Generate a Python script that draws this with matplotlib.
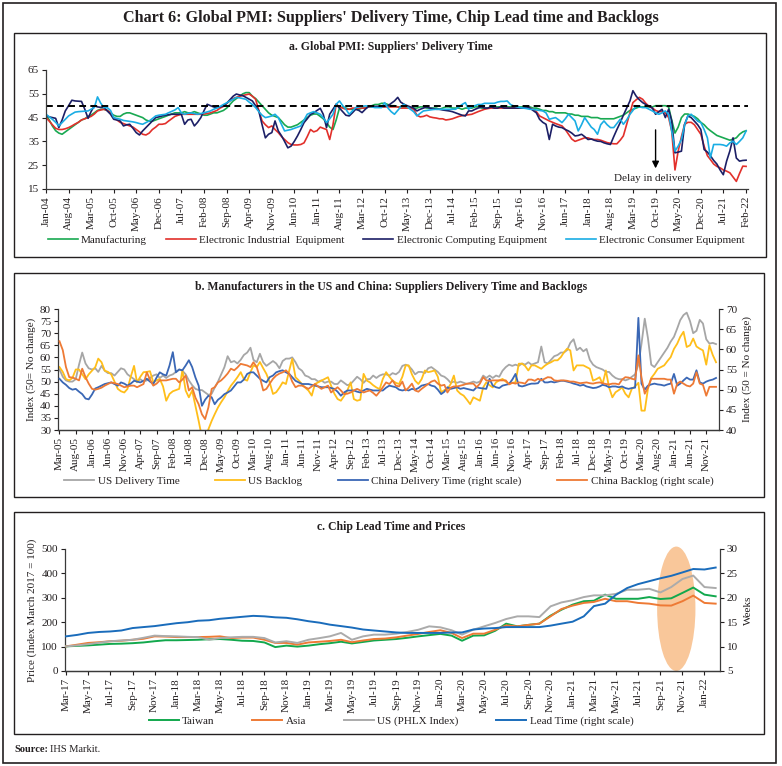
import pandas as pd
import matplotlib
matplotlib.use("Agg")
import matplotlib.pyplot as plt
import matplotlib.dates as mdates
from matplotlib.patches import Rectangle, Ellipse

plt.rcParams['font.family'] = ['Liberation Serif', 'DejaVu Serif']

W, H = 782, 766

# ---------------- a. Global PMI: suppliers' delivery time (Jan-04 .. Feb-22)
manufacturing = [
    46, 44, 41.5, 39.5, 38.5, 38, 39, 40, 41, 42, 43, 44,
    44.5, 45.5, 46, 47, 48, 48.5, 48.5, 48, 47, 46, 45.5, 45.5,
    46.5, 47, 47, 46.5, 46, 45.5, 45, 44, 43.5, 43.5, 44, 44.5,
    45, 45.5, 46, 46.5, 47, 47, 47, 47.5, 47, 47, 47.5, 47,
    46.5, 46, 46, 46.5, 47, 47, 47.5, 48, 49, 50.5, 52, 53,
    54, 55, 55.5, 55.5, 54, 53, 51.5, 50, 48.5, 47, 46, 45.5,
    45, 43.5, 42, 41, 41, 41.5, 42, 43, 44, 45, 46, 46.5,
    46.5, 45.5, 44.5, 43, 41, 40, 44, 49, 49.5, 49, 48.5, 48.5,
    48.5, 48.5, 49, 49, 49.5, 50, 50.5, 50.5, 51, 51, 50.5, 50,
    50, 49.5, 49.5, 49.5, 49.5, 49, 49, 49, 49.5, 49.5, 49, 49,
    49, 49, 48.5, 49, 49.5, 49.5, 49, 49, 49, 48.5, 49, 49,
    49, 49.5, 49.5, 49, 49, 49, 49.5, 49.5, 49.5, 49.5, 49.5, 49.5,
    49.5, 49.5, 49.5, 49.5, 49.5, 49.5, 49.5, 49, 49, 48.5, 48, 48,
    47.5, 47.5, 47, 47, 47, 47, 46.5, 46.5, 46, 46, 45.5, 45.5,
    45.5, 45, 45, 45, 44.5, 44.5, 44.5, 44.5, 44.5, 45, 45.5, 46,
    47, 48, 48.5, 49, 49.5, 49.5, 49.5, 49.5, 49.5, 50, 50, 50,
    50, 49.5, 44, 38.5, 41, 45, 46.5, 46.5, 46, 45.5, 44.5, 43,
    42, 40.5, 39.5, 38.5, 37.5, 37, 36.5, 36, 35.5, 36, 36.5, 38,
    39, 39.5,
]
industrial = [
    45, 43.5, 42, 40.5, 40, 40, 40.3, 40.8, 41.5, 42.3, 43, 44,
    44.5, 45, 45.5, 46.5, 47.8, 48.2, 48.5, 48, 47, 45, 44, 43,
    42.5, 42, 41.5, 41, 40, 39, 38, 37.7, 38.5, 40, 41, 42.2,
    42.2, 42.5, 43.5, 44.5, 45.5, 46, 46.4, 46.4, 46.4, 46.4, 46.4, 46.4,
    46.4, 46.5, 46.7, 47, 47.5, 48, 49, 49.7, 51, 52, 53, 53.5,
    54, 54.3, 54.6, 54.9, 54, 52.7, 48, 43.6, 42, 40.8, 41.5, 40,
    38.7, 37, 35.8, 34.5, 33.7, 33.5, 33.5, 33.7, 34.4, 37, 40, 39,
    39.5, 41, 40.5, 40, 35.8, 42, 50.6, 49.5, 49, 48.5, 48.5, 49,
    49, 49, 49, 49, 49.5, 49.5, 49.5, 49.5, 49.5, 49.5, 49.5, 49.5,
    49.5, 49.5, 49, 49, 49, 49, 48.5, 46, 45.3, 45.5, 46, 45.3,
    45, 44.8, 44.5, 44.5, 44, 44.2, 44.5, 45, 45.5, 45.8, 46, 46.2,
    46.4, 47, 47.5, 48, 48.5, 48.8, 49, 49, 49, 49, 49, 49,
    49, 49, 49, 49, 49, 49, 49, 48.5, 47.5, 45.7, 45, 44.3,
    43.6, 43, 42.5, 42, 41.5, 40, 38, 36, 35, 35.5, 36, 36.5,
    36.5, 36, 35.8, 35.8, 35.5, 35, 34.5, 34.2, 34, 34, 35.5, 37.3,
    42.2, 47, 51.3, 52.5, 53.5, 52.7, 51, 49.7, 49, 48, 47.5, 47.5,
    47, 45, 39.4, 23, 30.9, 37, 42.2, 43, 43, 42, 40, 38,
    33, 29, 27.4, 25.5, 24.5, 23.9, 23, 22.5, 21.8, 20, 18.2, 21.5,
    24.6, 24.5,
]
computing = [
    45.7, 45.3, 45, 44.7, 40.8, 44, 47.8, 50, 52.3, 52, 51.9, 51.8,
    48.5, 44.7, 47.5, 50, 49.5, 49.3, 49.3, 47.8, 46.4, 44.3, 44, 43.6,
    41.5, 42, 42.2, 40.5, 38.7, 37.7, 39.4, 40.8, 42.2, 43.6, 45, 45.3,
    45.7, 46, 46.2, 46.4, 46.4, 46.4, 46.4, 42.2, 44, 44.3, 41.5, 43,
    45, 48, 50.6, 50, 49.5, 49.2, 49.5, 49.9, 51, 52.5, 54, 54.9,
    54.5, 54.2, 53.5, 52.7, 52, 50, 47.8, 42, 36.5, 38, 38.7, 43.6,
    39.4, 37.3, 35, 32.3, 33, 35, 37.3, 40, 42.9, 44.5, 46.4, 47,
    48, 48.9, 46.4, 40.8, 46.4, 48.5, 50.6, 49, 47.5, 46, 45.7, 47,
    48.5, 48, 47.1, 48.5, 49.7, 49.7, 49.7, 49.7, 49.7, 49.7, 50, 51,
    52, 53.5, 51.5, 50.6, 50, 49.5, 49, 47.8, 48.5, 49, 49.5, 49,
    48.8, 48.5, 48.5, 48.2, 48, 47.8, 47.5, 47, 46.5, 46, 45.7, 47.8,
    47.8, 48.5, 49, 49.5, 49, 49, 49.5, 49, 49, 49.5, 49, 49,
    49, 49, 49, 49, 49, 49.5, 49, 48, 47, 44.3, 43, 42.2,
    35.8, 42.2, 41.5, 41, 40.8, 40, 39.4, 38.5, 37.3, 37.5, 38, 37,
    35.8, 36, 35.5, 35.1, 35, 34.4, 34, 33.7, 37, 40, 42.9, 46,
    49, 52, 56.3, 54, 52.5, 51.3, 50.5, 49.7, 49, 46.4, 47.5, 48.5,
    45, 48.5, 43.6, 30.2, 30.5, 30.9, 42.2, 45.7, 45, 43.5, 42, 40,
    31.6, 30.5, 29, 27, 25.5, 23, 21, 26.7, 31, 36.5, 28, 26.7,
    27, 27.1,
]
consumer = [
    46.4, 45.3, 44.3, 43, 41.5, 42.9, 44.3, 45.7, 46.5, 47.3, 47.5, 47.6,
    47.7, 47.8, 48.5, 49.2, 53.7, 51, 49.2, 49.2, 48, 45, 44.6, 44.3,
    43.8, 43.6, 43.4, 43.2, 42.9, 42.5, 42.2, 42.9, 43.6, 44.6, 45.7, 46,
    46.2, 46.4, 47, 47.6, 48.2, 49.2, 47, 46.4, 46.8, 47, 46.7, 46.4,
    46.7, 47, 47.4, 47.8, 48.5, 49, 49.7, 50.5, 51.2, 52, 52.7, 53.5,
    53.3, 53, 52.7, 51.5, 50.5, 49.2, 47.5, 46, 45, 45.3, 45.7, 46.4,
    45, 42, 39.4, 39.7, 40, 40.5, 41, 41.5, 44, 46.4, 47, 47.5,
    47, 46.4, 45, 42.9, 44.5, 46.4, 50.6, 52, 50, 48.5, 46.4, 47.8,
    49.2, 49.5, 49.7, 49.9, 49.8, 49.5, 49.2, 49.2, 49.2, 51.3, 49, 47.5,
    46.4, 48, 49.5, 50.6, 49.5, 48.5, 47.5, 45.7, 46.8, 47.8, 48, 48.2,
    48.4, 48.5, 48.5, 48.5, 48.5, 48.5, 48.5, 48.5, 49.5, 50.5, 51.3, 48.5,
    49.5, 50, 50.5, 50.5, 51, 51, 51, 51, 51.5, 51.8, 51.8, 52,
    50.5, 49.9, 49.5, 49.2, 49, 48.8, 48.5, 48.5, 48.2, 48, 47.8, 47,
    44.3, 44.7, 45, 44, 42.9, 44.5, 46.4, 45, 43.6, 39.4, 42, 45,
    43, 41, 40, 38, 42, 43.6, 42, 40.8, 40.8, 42.5, 44.3, 42.2,
    44, 46.4, 48, 49.9, 49.5, 49.2, 49.2, 48.5, 47.8, 47, 46.4, 47,
    47.8, 46.4, 39.4, 30.9, 33, 35.8, 42, 45.7, 46.4, 45, 43.5, 42.9,
    40, 36.5, 28.1, 33.7, 33.7, 33.7, 33.5, 33, 34.4, 35.1, 33.7, 35,
    36.5, 39.4,
]

# ---------------- b. US and China manufacturers (Mar-05 .. Feb-22)
us_delivery = [
    55, 52, 50.5, 50, 50, 51, 57, 62, 57.5, 55.5,
    55, 55.5, 54, 56.5, 54.5, 53.5, 53.5, 52.5, 54, 55.5, 55, 53,
    52, 51, 50, 51, 50, 50.5, 51.5, 52.5, 53, 51.5, 52.5, 51.5,
    52.5, 53, 54, 55, 54.5, 53, 50.5, 48.5, 47, 46.5, 46.5, 45.5,
    44.5, 45, 47.5, 50, 53, 56, 60.5, 58, 58.5, 57.5, 59, 61,
    62, 64, 59, 58, 61.5, 58, 56.5, 57.5, 58.5, 57.5, 55.5, 58.5,
    59.5, 59.5, 60, 58, 55.5, 54.5, 52.5, 52, 51, 51, 50, 50.5,
    49.5, 50, 50, 49, 49, 50.5, 49.5, 48.5, 49, 50.5, 52, 51,
    49.5, 51, 51, 52.5, 51.5, 52.5, 53, 53, 52.5, 53.5, 53, 54,
    56.5, 57, 56.5, 55, 53, 54, 54, 53.5, 55.5, 56, 55, 54,
    52.5, 52, 51, 49.5, 50, 49.5, 50, 49.5, 49, 49.5, 50, 49.5,
    50, 52.5, 51.5, 52.5, 51.5, 52.5, 52, 54.5, 56, 57, 56.5, 57,
    56.5, 57.5, 57, 58, 57, 57.5, 58, 64.5, 58, 57.5, 59, 60.5,
    61, 62, 62, 63, 66, 67.5, 63, 64, 62.5, 63.5, 59, 57,
    56, 55.5, 55, 54, 54, 52.5, 51.5, 51, 51, 50.5, 51, 52,
    53, 57, 65.5, 76, 68, 57, 56, 58, 60, 62, 64, 66.5,
    68.5, 72, 75.4, 77.5, 78.5, 75, 70, 71, 75.5, 74, 67.5, 65.7,
    66, 65.5,
]
us_backlog = [
    56, 54, 51, 50.5, 51.5, 55, 55, 53, 51, 53,
    54.5, 56, 59.5, 58, 54.5, 54, 53, 50, 47, 46, 45.5, 47,
    52, 56.5, 49.7, 52, 53.9, 54, 54.3, 49.7, 50.5, 51.1, 48, 42.1,
    44.9, 46, 46.5, 47, 54.6, 46.3, 43.5, 46.3, 40, 33.8, 27, 26,
    30.3, 33.8, 36.5, 39.3, 41.5, 43.5, 46, 48.3, 50, 51.8, 53.9, 51,
    50.4, 53.9, 56.7, 56, 58.1, 55.5, 53.2, 49.7, 44.9, 45.6, 47.5, 49.7,
    49, 54.6, 59.4, 51.8, 50.5, 49, 47.5, 46.3, 44.2, 49, 49.7, 50.4,
    51.1, 51.8, 48.3, 45, 42.8, 42.1, 44, 46.3, 49.7, 42.8, 42.1, 42.5,
    53.2, 50.4, 49.7, 48.5, 47.6, 46.9, 51.1, 53.9, 52, 50.4, 49.5, 49,
    52, 56.7, 56.7, 53, 50.4, 49, 51, 54.6, 53.9, 54.2, 54.6, 52,
    45.6, 46.5, 46.9, 49, 52.5, 46.3, 45, 44.2, 42.5, 40.7, 43.5, 42.8,
    42.1, 47.6, 49.7, 48.5, 47.6, 49.7, 50.5, 51.1, 50, 49, 49.5, 49.7,
    57.4, 57.4, 56.5, 54.6, 56.7, 56.7, 56, 55.3, 56.5, 57.4, 58, 58.8,
    58.8, 60.1, 62, 63.6, 62.9, 54.6, 56.7, 56.7, 56.7, 56, 55.3, 50.4,
    51, 51.8, 49, 54.6, 47.6, 43.5, 45.6, 46.5, 47.6, 45, 43.5, 47,
    48, 49.5, 38, 38, 47, 51.5, 53.2, 55.3, 56, 56.7, 58.5, 60.1,
    63.5, 65.7, 68.5, 70.6, 64.3, 65, 67.8, 64.5, 63.6, 62.9, 57, 65,
    61, 58,
]
china_delivery = [
    52.7, 51.8, 51.2, 50.4, 50, 50.2, 49.5, 48.9, 47.8, 47.6,
    48.8, 50.3, 50.6, 51, 51.4, 51.6, 51.8, 51.4, 51, 51.8, 51.5, 51,
    51.5, 52.2, 52, 51.8, 52.2, 52.7, 52, 51.4, 53, 54.3, 53.8, 53.5,
    56, 59.3, 54.3, 55, 54.8, 56, 57.3, 55.6, 53, 51, 46, 47.5,
    48.5, 48.1, 46.4, 47.5, 48.1, 48.9, 49.3, 49.8, 50.8, 51.8, 51.8, 52.5,
    53.9, 54.3, 54.3, 53.5, 52.7, 52.2, 51.8, 53.1, 53.5, 54.3, 54.6, 54.8,
    54.3, 53.9, 53.1, 52.2, 51.8, 51.4, 51.4, 51.4, 51.2, 51, 50.8, 50.6,
    50.6, 50.6, 50.4, 50.2, 49.5, 48.5, 49.3, 49.8, 49.8, 49.8, 49.5, 49.3,
    49.8, 50.2, 50, 49.8, 49.8, 49.8, 49.8, 50.5, 51, 50.8, 50.6, 50,
    49.8, 50, 49.8, 50.2, 50, 50.4, 51, 51.2, 51.4, 51, 50.8, 50,
    48.9, 49.5, 50.6, 50.2, 50.4, 50.6, 50.2, 50.4, 50.2, 50, 49.8, 50.6,
    50.4, 50.3, 50.2, 52.7, 51, 50.6, 50.4, 51, 51.2, 51.4, 52.5, 53.9,
    51, 50.8, 51, 51.3, 51.5, 51.5, 51.6, 52.7, 51.8, 51.8, 52, 51.8,
    52, 52.2, 52.2, 52, 51.8, 51.5, 51.3, 51, 51.2, 50.8, 50.6, 50.4,
    50.5, 50.8, 51.2, 51, 50.6, 50.8, 50.8, 50.6, 50.8, 50.4, 50.2, 50.4,
    50.5, 67.8, 51.5, 50, 51, 51.3, 51.5, 51.3, 51.2, 51, 51.3, 51.5,
    53.9, 51, 51.5, 52.3, 53, 52.5, 52.5, 54.8, 51.8, 51.5, 52, 52.3,
    52.5, 52.9,
]
china_backlog = [
    62, 59.8, 55.6, 53.1, 53, 52.7, 52.3, 55.2, 53.1, 51.5,
    50.2, 50, 50.2, 50.5, 51, 51.4, 51.8, 51.6, 51.4, 51, 50.6, 50.8,
    51, 51, 50.6, 51, 51.4, 54.3, 52.5, 51, 51.5, 52.3, 52.3, 52.3,
    52.5, 52.7, 52.7, 51.8, 52.5, 53.5, 49.8, 50.6, 48, 46.4, 43.9, 42.7,
    45.6, 50.2, 50.6, 51.8, 52.3, 53.1, 54, 55.2, 54.8, 55.5, 56.4, 56.2,
    56, 55.6, 56.8, 55.6, 53, 49.8, 50.2, 51.5, 52.7, 53.5, 54, 54.3,
    54.8, 53.9, 52, 50.6, 51, 51, 50.6, 50.2, 50.8, 51.4, 50.8, 50.2,
    50.6, 51, 49.3, 50, 50.6, 49.8, 48.9, 49, 49.3, 49.8, 50.2, 49.8,
    49.3, 49.6, 49.8, 49.2, 48.5, 49.5, 50.6, 51.8, 51.4, 52.3, 51, 50.8,
    52, 49.8, 50.5, 51.5, 49.8, 49.5, 50.2, 50.8, 51.4, 52, 52.3, 51.5,
    51, 51.2, 49.3, 50.5, 50.8, 50.8, 51, 51.2, 51.5, 51.5, 51.5, 50.6,
    51.5, 53.1, 52.3, 52.2, 52.3, 52.3, 52.3, 52.3, 52.3, 51.3, 51.7, 51.5,
    51.8, 51.7, 51.5, 52.5, 52.5, 52.2, 52.7, 52.3, 52.7, 53.1, 53, 52.3,
    52.2, 52.3, 52.3, 52.2, 52, 52, 51.8, 51.6, 51.7, 51.8, 51.6, 51.5,
    51.7, 51.8, 51.6, 51.4, 51.3, 51.5, 51.5, 51.3, 52.5, 53.1, 53, 52.7,
    52.5, 58.5, 53, 49, 50.5, 52.7, 52.7, 52.7, 52.7, 52.7, 52.5, 52.5,
    49, 51.5, 52, 51.5, 51, 50.8, 51.5, 54.3, 51.5, 51.2, 48.5, 50.7,
    50.7, 50.7,
]

# ---------------- c. Chip lead time and prices (Mar-17 .. Feb-22)
taiwan = [
    101, 103, 105, 108, 111, 112, 114, 117, 122, 126,
    126, 127, 128, 130, 131, 128, 124, 123, 117, 98, 104, 100,
    104, 110, 114, 120, 113, 119, 125, 128, 131, 136, 142, 147,
    152, 145, 124, 145, 146, 165, 194, 183, 189, 194, 227, 251,
    272, 286, 288, 313, 296, 296, 296, 303, 295, 298, 320, 342,
    313, 306,
]
asia = [
    101, 108, 115, 118, 122, 124, 128, 132, 142, 141,
    139, 139, 139, 140, 142, 135, 137, 137, 128, 115, 115, 108,
    117, 120, 123, 128, 118, 125, 131, 133, 138, 145, 152, 160,
    167, 156, 135, 153, 153, 169, 187, 183, 189, 194, 224, 254,
    268, 279, 283, 296, 286, 286, 279, 276, 269, 268, 286, 309,
    279, 276,
]
us_phlx = [
    101, 105, 110, 116, 122, 125, 128, 136, 145, 143,
    142, 140, 139, 128, 135, 138, 140, 140, 135, 117, 122, 115,
    128, 135, 142, 156, 128, 142, 149, 149, 153, 160, 169, 183,
    179, 167, 149, 169, 183, 197, 213, 224, 224, 221, 265, 281,
    290, 303, 310, 310, 316, 333, 333, 337, 322, 344, 377, 391,
    344, 340,
]
lead_time = [
    12.1, 12.4, 12.8, 13, 13.1, 13.3, 13.8, 14, 14.2, 14.5,
    14.8, 15, 15.3, 15.4, 15.7, 15.9, 16.1, 16.3, 16.2, 16, 15.9, 15.6,
    15.2, 14.9, 14.5, 14.2, 13.9, 13.5, 13.3, 13.1, 12.9, 12.8, 12.8, 12.8,
    12.8, 12.9, 12.9, 13.5, 13.7, 13.8, 14, 14, 14, 14, 14.3, 14.7,
    15.1, 16.2, 18.3, 18.8, 20.6, 22, 22.8, 23.4, 24, 24.5, 25.2, 25.9,
    25.8, 26.2,
]

TEXT = '#231F20'


def fig_box(x0, y0, x1, y1):
    """ pixel box (top-left origin) -> figure fraction [l, b, w, h] """
    return [x0 / W, 1 - y1 / H, (x1 - x0) / W, (y1 - y0) / H]


def fx(x):
    return x / W


def fy(y):
    return 1 - y / H


def style_axis(ax, ticks, left=True, right=False):
    ax.spines['top'].set_visible(False)
    ax.spines['right'].set_visible(right)
    ax.spines['left'].set_visible(left)
    for s in ax.spines.values():
        s.set_color('#3a3a3a')
        s.set_linewidth(0.9)
    ax.set_xticks(ticks)
    ax.set_xticklabels([t.strftime('%b-%y') for t in ticks], rotation=90)
    ax.tick_params(axis='both', direction='out', length=3, width=0.8,
                   labelsize=8, colors=TEXT, pad=2)


def add_legend(ax, handles, xc, yc, spacing):
    ax.legend(handles=handles, loc='center', bbox_to_anchor=(fx(xc), fy(yc)),
              bbox_transform=fig.transFigure, ncol=4, frameon=False, fontsize=8,
              handlelength=2.7, handletextpad=0.3, columnspacing=spacing, labelcolor=TEXT)


fig = plt.figure(figsize=(W / 100, H / 100), dpi=100)

# frames
fig.add_artist(Rectangle((fx(3), fy(763)), (776 - 3) / W, (763 - 3) / H,
                         transform=fig.transFigure, fill=False, lw=1.2, ec=TEXT))
for (x0, y0, x1, y1) in [(14, 33, 766, 257), (14, 273, 764, 497), (14, 512, 764, 734)]:
    fig.add_artist(Rectangle((fx(x0), fy(y1)), (x1 - x0) / W, (y1 - y0) / H,
                             transform=fig.transFigure, fill=False, lw=1.0, ec=TEXT))

fig.text(fx(391), fy(18), "Chart 6: Global PMI: Suppliers' Delivery Time, Chip Lead time and Backlogs",
         ha='center', va='center', fontsize=11.6, fontweight='bold', color=TEXT)

# ---------------- panel a
months_a = pd.date_range('2004-01-01', periods=len(manufacturing), freq='MS')
ax1 = fig.add_axes(fig_box(46, 70, 748, 189))
a1, = ax1.plot(months_a, manufacturing, color='#19A952', lw=1.2, label='Manufacturing')
a2, = ax1.plot(months_a, industrial, color='#E2302B', lw=1.2, label='Electronic Industrial  Equipment')
a3, = ax1.plot(months_a, computing, color='#1C1F66', lw=1.2, label='Electronic Computing Equipment')
a4, = ax1.plot(months_a, consumer, color='#1AADE4', lw=1.2, label='Electronic Consumer Equipment')
ax1.axhline(50, color='black', ls=(0, (3.5, 2.2)), lw=1.4)
ax1.set_ylim(15, 65)
ax1.set_yticks(range(15, 66, 10))
ax1.set_xlim(months_a[0], pd.Timestamp('2022-02-19'))
style_axis(ax1, months_a[::7])
ax1.annotate('', xy=(pd.Timestamp('2019-10-01'), 22.5), xytext=(pd.Timestamp('2019-10-01'), 41),
             arrowprops=dict(arrowstyle='-|>', color='black', lw=1.0, mutation_scale=10))
ax1.text(pd.Timestamp('2019-09-01'), 19.3, 'Delay in delivery', ha='center', va='center',
         fontsize=8, color=TEXT)
fig.text(fx(391), fy(47), "a. Global PMI: Suppliers' Delivery Time", ha='center', va='center',
         fontsize=8.5, fontweight='bold', color=TEXT)
add_legend(ax1, [a1, a2, a3, a4], 396, 240, 1.7)

# ---------------- panel b
months_b = pd.date_range('2005-03-01', periods=len(us_delivery), freq='MS')
ax2 = fig.add_axes(fig_box(58, 309, 719, 430))
ax2r = ax2.twinx()
l1, = ax2.plot(months_b, us_delivery, color='#A6A6A6', lw=1.3, label='US Delivery Time')
l2, = ax2.plot(months_b, us_backlog, color='#FFBE1A', lw=1.3, label='US Backlog')
l3, = ax2r.plot(months_b, china_delivery, color='#3A67B5', lw=1.3, label='China Delivery Time (right scale)')
l4, = ax2r.plot(months_b, china_backlog, color='#EE7A35', lw=1.3, label='China Backlog (right scale)')
ax2.set_ylim(30, 80)
ax2.set_yticks(range(30, 81, 5))
ax2r.set_ylim(40, 70)
ax2r.set_yticks(range(40, 71, 5))
ax2.set_xlim(pd.Timestamp('2005-02-15'), pd.Timestamp('2022-03-01'))
style_axis(ax2, months_b[::5])
style_axis(ax2r, months_b[::5], left=False, right=True)
ax2.set_ylabel('Index (50= No change)', fontsize=8, color=TEXT, labelpad=3)
ax2r.set_ylabel('Index (50 = No change)', fontsize=8, color=TEXT, rotation=90, labelpad=4)
fig.text(fx(391), fy(287), 'b. Manufacturers in the US and China: Suppliers Delivery Time and Backlogs',
         ha='center', va='center', fontsize=8.5, fontweight='bold', color=TEXT)
add_legend(ax2, [l1, l2, l3, l4], 389, 481, 3.2)

# ---------------- panel c
months_c = pd.date_range('2017-03-01', periods=len(taiwan), freq='MS')
ax3 = fig.add_axes(fig_box(65, 549, 720, 671))
ax3r = ax3.twinx()
ax3.add_patch(Ellipse((mdates.date2num(pd.Timestamp('2021-10-15')), 255), 106, 510,
                      facecolor='#F9C79A', edgecolor='none', zorder=0, clip_on=False))
c1, = ax3.plot(months_c, taiwan, color='#12A84D', lw=1.4, label='Taiwan', zorder=3)
c2, = ax3.plot(months_c, asia, color='#EE7A35', lw=1.4, label='Asia', zorder=3)
c3, = ax3.plot(months_c, us_phlx, color='#ABABAB', lw=1.4, label='US (PHLX Index)', zorder=3)
c4, = ax3r.plot(months_c, lead_time, color='#1A6CBB', lw=1.4, label='Lead Time (right scale)')
ax3.set_ylim(0, 500)
ax3.set_yticks(range(0, 501, 100))
ax3r.set_ylim(5, 30)
ax3r.set_yticks(range(5, 31, 5))
ax3.set_xlim(pd.Timestamp('2017-02-26'), pd.Timestamp('2022-02-13'))
style_axis(ax3, months_c[::2])
style_axis(ax3r, months_c[::2], left=False, right=True)
ax3.set_ylabel('Price (Index March 2017 = 100)', fontsize=8, color=TEXT, labelpad=3)
ax3r.set_ylabel('Weeks', fontsize=8, color=TEXT, rotation=90, labelpad=4)
fig.text(fx(391), fy(527), 'c. Chip Lead Time and Prices', ha='center', va='center',
         fontsize=8.5, fontweight='bold', color=TEXT)
add_legend(ax3, [c1, c2, c3, c4], 391, 721, 3.4)

fig.text(fx(14), fy(750), 'Source:', ha='left', va='center', fontsize=7.5,
         fontweight='bold', color=TEXT)
fig.text(fx(50), fy(750), 'IHS Markit.', ha='left', va='center', fontsize=7.5, color=TEXT)

fig.savefig('out.png', dpi=100)
